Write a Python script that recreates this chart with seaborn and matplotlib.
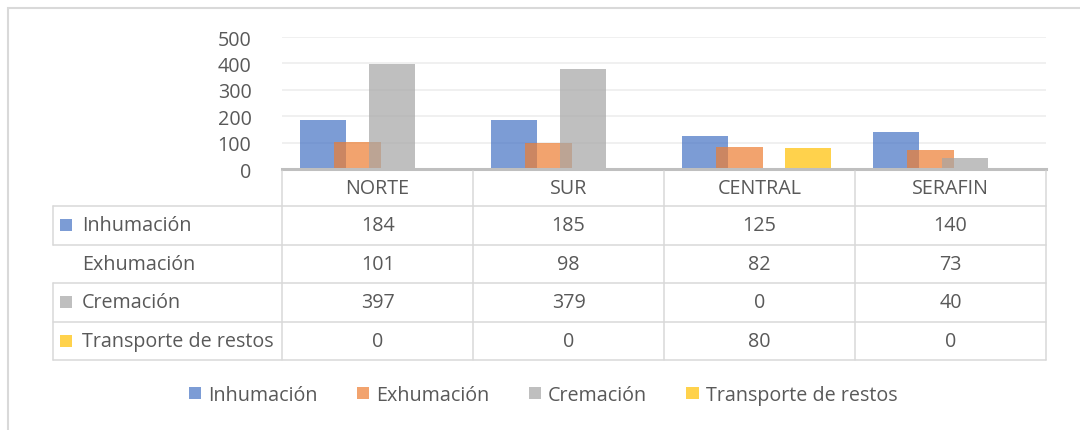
import numpy as np
import pandas as pd
import matplotlib
matplotlib.use("Agg")
import matplotlib.pyplot as plt
from matplotlib.patches import Rectangle, Patch
import seaborn as sns

# data
categories = ["NORTE", "SUR", "CENTRAL", "SERAFIN"]
series_names = ["Inhumación", "Exhumación", "Cremación", "Transporte de restos"]
inhumacion = [184, 185, 125, 140]
exhumacion = [101, 98, 82, 73]
cremacion = [397, 379, 0, 40]
transporte = [0, 0, 80, 0]
yticks = [0, 100, 200, 300, 400, 500]

series_values = [inhumacion, exhumacion, cremacion, transporte]
base_colors = ["#4472C4", "#ED7D31", "#A5A5A5", "#FFC000"]
offsets = [-0.285, -0.105, 0.075, 0.255]
text_color = "#595959"
grid_color = "#D9D9D9"
fs = 14.2

sns.set_theme(style="white")
plt.rcParams["font.family"] = ["Open Sans", "DejaVu Sans"]

W, H = 1080, 431
fig = plt.figure(figsize=(W / 100, H / 100), dpi=100)


def px_box(x0, y0, x1, y1):
    # pixel box (top-left origin) -> figure fraction rect
    return [x0 / W, (H - y1) / H, (x1 - x0) / W, (y1 - y0) / H]


# bar chart
ax = fig.add_axes(px_box(282, 38, 1046, 170))
pos = np.arange(len(categories))
for name, vals, col, off in zip(series_names, series_values, base_colors, offsets):
    df = pd.DataFrame({"x": pos + off, "y": vals})
    sns.barplot(data=df, x="x", y="y", native_scale=True, width=0.242,
                color=col, alpha=0.7, saturation=1, linewidth=0, ax=ax)
ax.set_xlim(-0.5, len(categories) - 0.5)
ax.set_ylim(0, 500)
ax.set_yticks(yticks)
ax.set_yticklabels([str(v) for v in yticks], fontsize=fs, color=text_color)
ax.tick_params(axis="y", length=0, pad=22)
ax.set_xticks([])
ax.set_xlabel("")
ax.set_ylabel("")
ax.grid(axis="y", color="#EDEDED", lw=1.2)
ax.set_axisbelow(True)
for s in ["top", "right", "left"]:
    ax.spines[s].set_visible(False)
ax.spines["bottom"].set_color("#BFBFBF")
ax.spines["bottom"].set_linewidth(2.2)

# data table
tax = fig.add_axes(px_box(53, 172, 1046, 361))
tax.set_xlim(-1.7, len(categories) - 0.5)
tax.set_ylim(361, 172)
tax.axis("off")
row_edges = [172, 207, 245.5, 284, 322.5, 361]
lw = 1.1
for xb in np.arange(-0.5, len(categories), 1.0):
    tax.plot([xb, xb], [172, 361], color=grid_color, lw=lw, clip_on=False)
for yb in row_edges[1:]:
    tax.plot([-1.7, len(categories) - 0.5], [yb, yb], color=grid_color, lw=lw, clip_on=False)
tax.plot([-1.7, -1.7], [207, 245.5], color=grid_color, lw=lw, clip_on=False)
tax.plot([-1.7, -1.7], [284, 361], color=grid_color, lw=lw, clip_on=False)

for i, c in enumerate(categories):
    tax.text(i, (row_edges[0] + row_edges[1]) / 2, c, ha="center", va="center",
             fontsize=fs, color=text_color)

px_unit = 993 / 5.2
for r, (name, vals, col) in enumerate(zip(series_names, series_values, base_colors)):
    yc = (row_edges[r + 1] + row_edges[r + 2]) / 2
    if name != "Exhumación":
        tax.add_patch(Rectangle((-1.7 + 7 / px_unit, yc - 6), 12 / px_unit, 12,
                                color=col, alpha=0.7, lw=0, clip_on=False))
    tax.text(-1.7 + 29 / px_unit, yc, name, ha="left", va="center",
             fontsize=fs, color=text_color)
    for i, v in enumerate(vals):
        tax.text(i, yc, str(v), ha="center", va="center", fontsize=fs, color=text_color)

# legend
handles = [Patch(facecolor=c, alpha=0.7, lw=0) for c in base_colors]
fig.legend(handles, series_names, loc="center", bbox_to_anchor=(543 / W, 1 - 396 / H),
           ncol=4, frameon=False, fontsize=fs, handlelength=0.62, handleheight=0.62,
           handletextpad=0.35, columnspacing=2.0, labelcolor=text_color)

# chart area border
fig.add_artist(Rectangle((8 / W, -0.1), 1.2, (H - 9) / H + 0.1, transform=fig.transFigure,
                         fill=False, ec=grid_color, lw=1.5))

fig.savefig("out.png", dpi=100, facecolor="white")
